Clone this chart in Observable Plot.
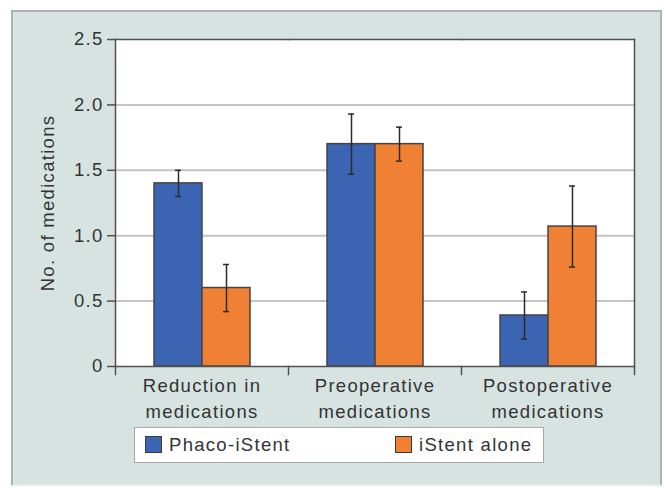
<!DOCTYPE html>
<html>
<head>
<meta charset="utf-8">
<script src="https://cdn.jsdelivr.net/npm/d3@7"></script>
<script src="https://cdn.jsdelivr.net/npm/@observablehq/plot@0.6"></script>
<style>
  html, body { margin: 0; padding: 0; background: #ffffff; }
  body { width: 669px; height: 488px; position: relative; overflow: hidden;
         font-family: "Liberation Sans", Arial, sans-serif; }
  #panel { position: absolute; left: 11px; top: 10px; width: 651px; height: 476px;
           box-sizing: border-box; background: #d6e3e1; border: 2px solid #aab3b3; border-bottom-color: #e4ecea; }
  #chart { position: absolute; left: 0; top: 0; }
  #legend { position: absolute; left: 134px; top: 427px; width: 410px; height: 36px;
            box-sizing: border-box; background: #ffffff; border: 1.5px solid #a8a8a8; }
  .item { position: absolute; top: 0; height: 33px; display: flex; align-items: center;
          font-size: 18.5px; letter-spacing: 1.3px; color: #333; }
  .sw { width: 15px; height: 15px; border: 1.5px solid #3a3a3a; margin-right: 7px; }
</style>
</head>
<body>
<div id="panel"></div>
<div id="chart"></div>
<div id="legend"></div>
<script>
// ---- data ----
const categories = ["Reduction in medications", "Preoperative medications", "Postoperative medications"];
const categoryLabels = ["Reduction in\nmedications", "Preoperative\nmedications", "Postoperative\nmedications"];
const series = ["Phaco-iStent", "iStent alone"];
const phacoMean = [1.40, 1.70, 0.39];
const phacoErr = [0.10, 0.23, 0.18];
const istentMean = [0.60, 1.70, 1.07];
const istentErr = [0.18, 0.13, 0.31];
const yTicks = [0, 0.5, 1.0, 1.5, 2.0, 2.5];
const colors = ["#3b65b3", "#f08034"];

const rows = [];
categories.forEach((c, i) => {
  rows.push({category: c, series: series[0], value: phacoMean[i], err: phacoErr[i]});
  rows.push({category: c, series: series[1], value: istentMean[i], err: istentErr[i]});
});
const labelOf = new Map(categories.map((c, i) => [c, categoryLabels[i]]));

const axisColor = "#505050";
const plotH = 366 - 39;

const chart = Plot.plot({
  width: 669,
  height: 425,
  marginLeft: 114,
  marginRight: 34,
  marginTop: 39,
  marginBottom: 59,
  style: {fontFamily: "Liberation Sans, Arial, sans-serif", fontSize: "18.5px", letterSpacing: "1.3px",
          color: "#333", background: "transparent", overflow: "visible"},
  fx: {domain: categories, padding: 0, axis: null},
  x: {domain: series, paddingInner: 0, paddingOuter: 0.768, axis: null},
  y: {domain: [0, 2.5], axis: null},
  color: {domain: series, range: colors},
  marks: [
    Plot.frame({fill: "white", stroke: "white", strokeWidth: 1, shapeRendering: "crispEdges"}),
    Plot.ruleY(yTicks.filter(d => d > 0 && d < 2.5), {stroke: "#c4c4c4", strokeWidth: 2}),
    Plot.frame({anchor: "top", stroke: axisColor, strokeWidth: 1.5}),
    Plot.frame({anchor: "right", stroke: axisColor, strokeWidth: 1.5, facetAnchor: "right"}),
    Plot.frame({anchor: "left", stroke: axisColor, strokeWidth: 1.5, facetAnchor: "left"}),
    // category separator ticks below the baseline
    Plot.frame({anchor: "left", stroke: axisColor, strokeWidth: 1.5, insetTop: plotH, insetBottom: -8}),
    Plot.frame({anchor: "right", stroke: axisColor, strokeWidth: 1.5, insetTop: plotH, insetBottom: -8, facetAnchor: "right"}),
    Plot.barY(rows, {fx: "category", x: "series", y: "value", fill: "series", stroke: "#444", strokeWidth: 1.5}),
    Plot.ruleY([0], {stroke: axisColor, strokeWidth: 1.5}),
    Plot.ruleX(rows, {fx: "category", x: "series", y1: d => d.value - d.err, y2: d => d.value + d.err, stroke: "#2b2b2b", strokeWidth: 1.5}),
    Plot.tickY(rows, {fx: "category", x: "series", y: d => d.value + d.err, stroke: "#2b2b2b", strokeWidth: 1.5, insetLeft: 21, insetRight: 21}),
    Plot.tickY(rows, {fx: "category", x: "series", y: d => d.value - d.err, stroke: "#2b2b2b", strokeWidth: 1.5, insetLeft: 21, insetRight: 21}),
    Plot.axisY(yTicks, {anchor: "left", tickSize: 8, tickPadding: 4, stroke: axisColor, strokeWidth: 1.5,
      tickFormat: d => d === 0 ? "0" : d.toFixed(1), fontSize: 18.5, fill: "#333",
      label: "No. of medications", labelAnchor: "center", labelOffset: 75, labelArrow: "none"}),
    Plot.text(categories, {fx: d => d, text: d => labelOf.get(d), frameAnchor: "bottom", lineAnchor: "top",
      dy: 8, lineHeight: 1.36, fontSize: 18.5, fill: "#333"})
  ]
});
document.getElementById("chart").appendChild(chart);

// legend (HTML, from the same series/colors arrays)
const legend = document.getElementById("legend");
const legendLeft = [10, 260];
series.forEach((s, i) => {
  const item = document.createElement("div");
  item.className = "item";
  item.style.left = legendLeft[i] + "px";
  const sw = document.createElement("span");
  sw.className = "sw";
  sw.style.background = colors[i];
  item.appendChild(sw);
  item.appendChild(document.createTextNode(s));
  legend.appendChild(item);
});
</script>
</body>
</html>
